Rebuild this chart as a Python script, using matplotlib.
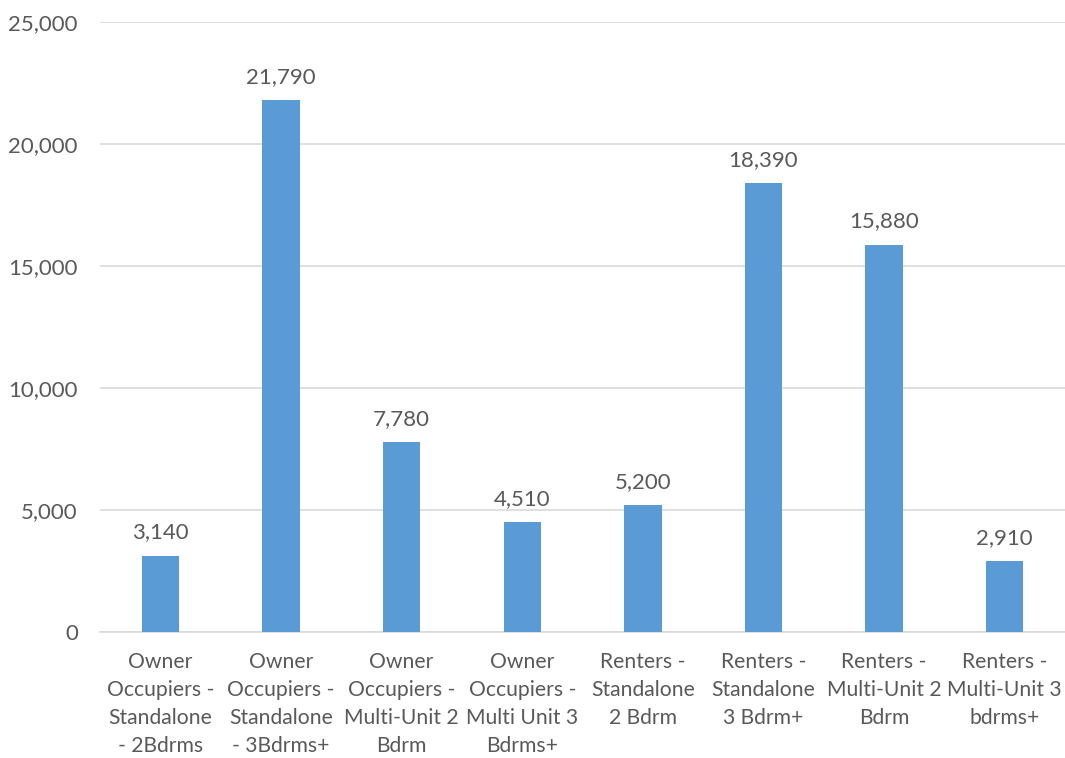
import matplotlib
matplotlib.use("Agg")
import matplotlib.pyplot as plt
from matplotlib.ticker import FuncFormatter

categories = [
    "Owner\nOccupiers -\nStandalone\n- 2Bdrms",
    "Owner\nOccupiers -\nStandalone\n- 3Bdrms+",
    "Owner\nOccupiers -\nMulti-Unit 2\nBdrm",
    "Owner\nOccupiers -\nMulti Unit 3\nBdrms+",
    "Renters -\nStandalone\n2 Bdrm",
    "Renters -\nStandalone\n3 Bdrm+",
    "Renters -\nMulti-Unit 2\nBdrm",
    "Renters -\nMulti-Unit 3\nbdrms+",
]
values = [3140, 21790, 7780, 4510, 5200, 18390, 15880, 2910]

plt.rcParams['font.family'] = ['Lato', 'DejaVu Sans']
text_col = "#595959"
fs = 16

fig = plt.figure(figsize=(10.65, 7.58), dpi=100)
ax = fig.add_axes([0.094, 0.166, 0.906, 0.805])

x = range(len(values))
ax.bar(x, values, width=0.31, color="#5B9BD5", zorder=3)
for xi, v in zip(x, values):
    ax.text(xi, v + 550, f"{v:,}", ha="center", va="bottom",
            fontsize=fs, color=text_col)

ax.set_xlim(-0.5, len(values) - 0.5)
ax.set_ylim(0, 25000)
ax.set_yticks(range(0, 25001, 5000))
ax.yaxis.set_major_formatter(FuncFormatter(lambda v, p: f"{int(v):,}"))
ax.grid(axis="y", color="#D9D9D9", linewidth=1.2, zorder=0)

ax.set_xticks(list(x))
ax.set_xticklabels(categories, fontsize=15.2, color=text_col, linespacing=1.5)
for lbl in ax.get_yticklabels():
    lbl.set_fontsize(fs)
    lbl.set_color(text_col)

for side in ["top", "right", "left"]:
    ax.spines[side].set_visible(False)
ax.spines["bottom"].set_color("#D9D9D9")
ax.spines["bottom"].set_linewidth(1.2)
ax.tick_params(axis="both", length=0)
ax.tick_params(axis="y", pad=16)
ax.tick_params(axis="x", pad=14)

fig.savefig("out.png", dpi=100)
